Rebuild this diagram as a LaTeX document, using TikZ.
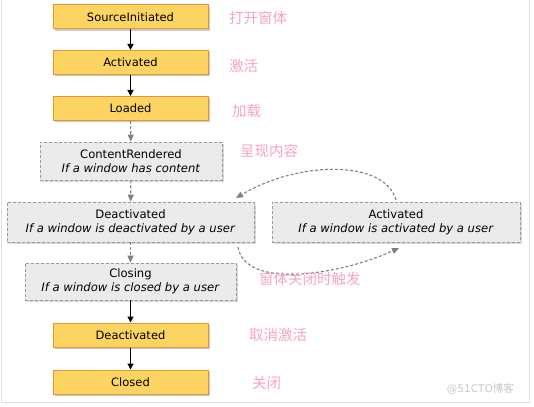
\documentclass[tikz,border=0pt]{standalone}
\usepackage{fontspec}
\setmainfont{DejaVu Sans}
\newfontfamily\cjk{Noto Sans CJK SC}
\usetikzlibrary{arrows.meta,shadows}
\definecolor{yfill}{HTML}{FCD462}
\definecolor{ydraw}{HTML}{E8952E}
\definecolor{gfill}{HTML}{EBEBEB}
\definecolor{gdraw}{HTML}{9A9A9A}
\definecolor{pinktxt}{HTML}{F7A3C6}
\definecolor{arrgray}{HTML}{808080}
\tikzset{
  ybox/.style={draw=ydraw, line width=1pt, fill=yfill, minimum width=155pt, minimum height=24pt, inner sep=0pt,
    font=\fontsize{11.5}{13}\selectfont, drop shadow={shadow xshift=2pt, shadow yshift=-2pt, fill=black!35, opacity=0.6}},
  gbox/.style={draw=gdraw, dashed, dash pattern=on 3pt off 2pt, line width=0.8pt, fill=gfill, minimum height=38pt, inner sep=0pt,
    align=center, font=\fontsize{11.6}{14}\selectfont, drop shadow={shadow xshift=2pt, shadow yshift=-2pt, fill=black!30, opacity=0.5}},
  cn/.style={font=\cjk\fontsize{14.5}{15}\selectfont, text=pinktxt, anchor=west, inner sep=0pt},
  solidarr/.style={-{Triangle[length=6pt,width=6pt]}, line width=1.2pt, black},
  dasharr/.style={-{Triangle[length=7pt,width=6pt]}, line width=1.1pt, arrgray, dash pattern=on 3pt off 2pt},
}
\begin{document}
\begin{tikzpicture}[x=1pt,y=-1pt]
\useasboundingbox (0,0) rectangle (534,406);
\draw[black!12, line width=1pt] (1.5,0) -- (1.5,402.5) -- (529.5,402.5) -- (529.5,0);

\node[ybox] (si) at (130.5,17) {SourceInitiated};
\node[ybox] (a1) at (130.5,62.5) {Activated};
\node[ybox] (ld) at (130.5,108.5) {Loaded};
\node[gbox, minimum width=182pt] (cr) at (131,161) {ContentRendered\\\textit{If a window has content}};
\node[gbox, minimum width=247pt, minimum height=40pt] (d1) at (130.5,222) {Deactivated\\\textit{If a window is deactivated by a user}};
\node[gbox, minimum width=248pt, minimum height=40pt] (a2) at (396,222) {Activated\\\textit{If a window is activated by a user}};
\node[gbox, minimum width=211pt, minimum height=37pt] (cl) at (130.5,281.5) {Closing\\\textit{If a window is closed by a user}};
\node[ybox] (d2) at (130.5,335) {Deactivated};
\node[ybox] (cd) at (130.5,382) {Closed};

\draw[solidarr] (si) -- (a1);
\draw[solidarr] (a1) -- (ld);
\draw[dasharr] (ld) -- (cr);
\draw[dasharr] (cr) -- (d1);
\draw[dasharr] (d1) -- (cl);
\draw[solidarr] (cl) -- (d2);
\draw[solidarr] (d2) -- (cd);

\coordinate (p1) at (396,200);
\coordinate (p2) at (236,198);
\coordinate (p3) at (238,247);
\coordinate (p4) at (399,248);
\draw[dasharr] (p1) .. controls (385,160) and (300,160) .. (p2);
\draw[dasharr] (p3) .. controls (245,290) and (340,275) .. (p4);

\node[cn] (t1) at (229,18) {打开窗体};
\node[cn] (t2) at (229,66) {激活};
\node[cn] (t3) at (232,111) {加载};
\node[cn] (t4) at (240,151) {呈现内容};
\node[cn] (t5) at (259,279) {窗体关闭时触发};
\node[cn] (t6) at (249,335) {取消激活};
\node[cn] (t7) at (252,383) {关闭};
\node[font=\fontsize{10.5}{12}\selectfont, text=black!22, anchor=east, inner sep=0pt] (wm) at (514,389) {@51CTO{\cjk 博客}};
\end{tikzpicture}
\end{document}
